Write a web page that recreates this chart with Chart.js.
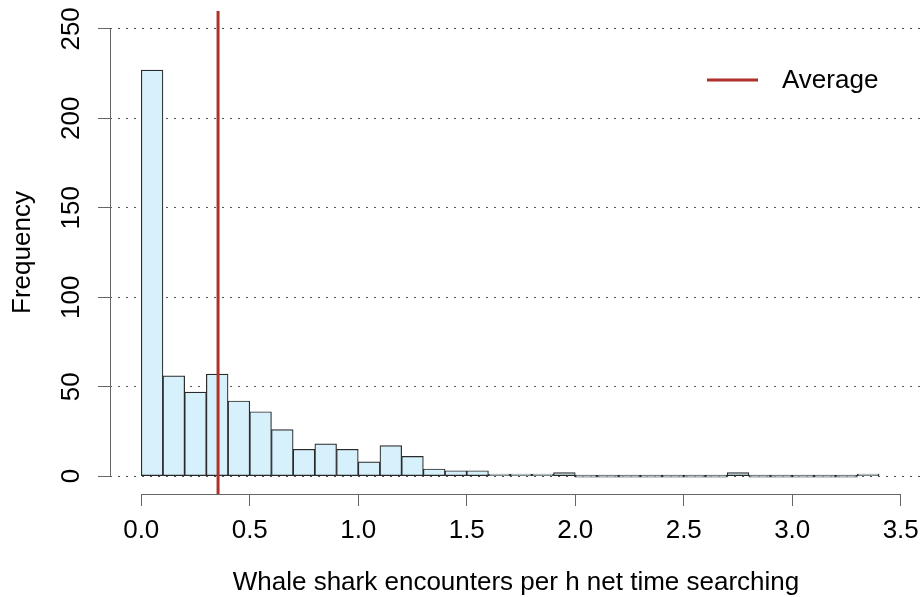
<!DOCTYPE html>
<html>
<head>
<meta charset="utf-8">
<script src="https://cdn.jsdelivr.net/npm/chart.js@4/dist/chart.umd.min.js"></script>
<style>
  body { margin: 0; background: #fff; }
</style>
</head>
<body>
<canvas id="hist" width="922" height="597"></canvas>
<script>
// histogram bins (width 0.1, starting at 0)
var binWidth = 0.1;
var counts = [227, 56, 47, 57, 42, 36, 26, 15, 18, 15, 8, 17, 11, 4, 3, 3, 1, 1, 1, 2,
              0, 0, 0, 0, 0, 0, 0, 2, 0, 0, 0, 0, 0, 1];
var averageValue = 0.354;
var xTicks = [0, 0.5, 1, 1.5, 2, 2.5, 3, 3.5];
var yTicks = [0, 50, 100, 150, 200, 250];

var histData = counts.map(function (c, i) {
  return { x: i * binWidth + binWidth / 2, y: c };
});

var FONT = 'Liberation Sans, Arial, Helvetica, sans-serif';
var AXIS = '#666';

// R style axis lines that only span the ticks, plus the legend
var rAxes = {
  id: 'rAxes',
  afterDraw: function (chart) {
    var c = chart.ctx, xs = chart.scales.x, ys = chart.scales.y, area = chart.chartArea;
    c.save();
    c.strokeStyle = AXIS;
    c.lineWidth = 1;
    c.beginPath();
    c.moveTo(area.left + 0.5, ys.getPixelForValue(yTicks[yTicks.length - 1]));
    c.lineTo(area.left + 0.5, ys.getPixelForValue(yTicks[0]));
    c.moveTo(xs.getPixelForValue(xTicks[0]), area.bottom + 0.5);
    c.lineTo(xs.getPixelForValue(xTicks[xTicks.length - 1]), area.bottom + 0.5);
    c.stroke();

    // legend
    var ds = chart.data.datasets[1];
    c.strokeStyle = ds.borderColor;
    c.lineWidth = 3;
    c.beginPath();
    c.moveTo(707, 80);
    c.lineTo(758, 80);
    c.stroke();
    c.fillStyle = '#000';
    c.font = '26px ' + FONT;
    c.textBaseline = 'middle';
    c.textAlign = 'left';
    c.fillText(ds.label, 782, 81);
    c.restore();
  }
};

var ctx = document.getElementById('hist').getContext('2d');
var chart = new Chart(ctx, {
  type: 'bar',
  data: {
    datasets: [{
      label: 'Frequency',
      data: histData,
      backgroundColor: '#d6f1fc',
      borderColor: '#2a2a2a',
      borderWidth: 1.2,
      borderSkipped: false,
      minBarLength: 2,
      barPercentage: 1,
      categoryPercentage: 1,
      order: 2
    }, {
      type: 'line',
      label: 'Average',
      data: [{ x: averageValue, y: -10 }, { x: averageValue, y: 260 }],
      borderColor: '#b0302a',
      borderWidth: 3,
      pointRadius: 0,
      fill: false,
      order: 1
    }]
  },
  options: {
    responsive: false,
    animation: false,
    layout: { padding: { top: 11, left: 0, right: 0, bottom: 0 } },
    plugins: {
      legend: { display: false },
      tooltip: { enabled: false }
    },
    scales: {
      x: {
        type: 'linear',
        offset: false,
        min: -0.144,
        max: 3.598,
        afterBuildTicks: function (s) { s.ticks = xTicks.map(function (v) { return { value: v }; }); },
        afterFit: function (s) { s.height = 103; s.paddingLeft = 0; s.paddingRight = 0; },
        grid: {
          offset: false,
          drawOnChartArea: false,
          drawTicks: true,
          tickLength: 12,
          tickColor: AXIS,
          tickWidth: 1
        },
        border: { display: false },
        ticks: {
          autoSkip: false,
          maxRotation: 0,
          padding: 9,
          color: '#000',
          font: { family: FONT, size: 26 },
          callback: function (v) { return Number(v).toFixed(1); }
        },
        title: {
          display: true,
          text: 'Whale shark encounters per h net time searching',
          color: '#000',
          font: { family: FONT, size: 26, lineHeight: 1.1 },
          padding: 0
        }
      },
      y: {
        min: -10,
        max: 260,
        afterBuildTicks: function (s) { s.ticks = yTicks.map(function (v) { return { value: v }; }); },
        afterFit: function (s) { s.width = 110; s.paddingTop = 0; s.paddingBottom = 0; },
        grid: {
          color: '#555',
          lineWidth: 1,
          drawTicks: true,
          tickLength: 12,
          tickColor: AXIS,
          tickWidth: 1,
          tickBorderDash: []
        },
        border: { display: false, dash: [2, 6] },
        ticks: {
          autoSkip: false,
          minRotation: 90,
          maxRotation: 90,
          crossAlign: 'center',
          padding: 4,
          color: '#000',
          font: { family: FONT, size: 26 }
        },
        title: {
          display: true,
          text: 'Frequency',
          color: '#000',
          font: { family: FONT, size: 26, lineHeight: 1.2 },
          padding: { top: 7, bottom: 0 }
        }
      }
    }
  },
  plugins: [rAxes]
});
</script>
</body>
</html>
